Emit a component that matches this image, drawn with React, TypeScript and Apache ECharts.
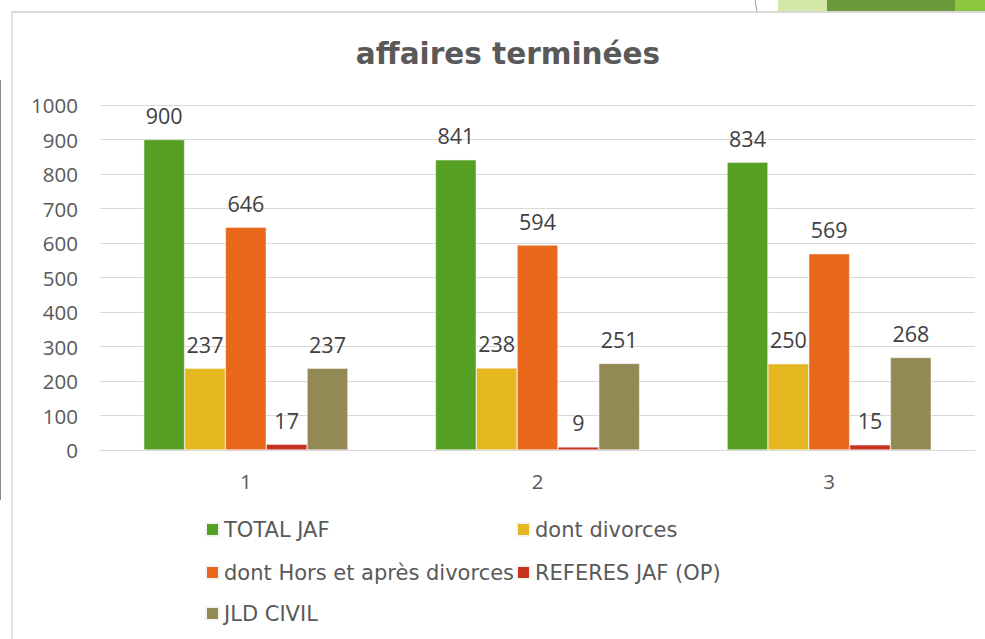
import React, { useEffect, useRef } from "react";
import * as echarts from "echarts";

const categories = ["1", "2", "3"];
const seriesNames = [
  "TOTAL JAF",
  "dont divorces",
  "dont Hors et après divorces",
  "REFERES JAF (OP)",
  "JLD CIVIL",
];
const totalJaf = [900, 841, 834];
const dontDivorces = [237, 238, 250];
const dontHors = [646, 594, 569];
const referesJaf = [17, 9, 15];
const jldCivil = [237, 251, 268];
const seriesColors = ["#55a023", "#e5b821", "#e8671b", "#c9311f", "#938955"];
const yTicks = [0, 1000, 100];

const FONT = "'Open Sans', 'Noto Sans', sans-serif";
const FONT2 = "'DejaVu Sans', sans-serif";

export default function App() {
  const ref = useRef<HTMLDivElement>(null);
  useEffect(() => {
    if (!ref.current) return;
    const chart = echarts.init(ref.current, undefined, { renderer: "svg" });
    const values = [totalJaf, dontDivorces, dontHors, referesJaf, jldCivil];
    const legendPos = [
      { left: 205, top: 519 },
      { left: 516, top: 519 },
      { left: 205, top: 562 },
      { left: 516, top: 562 },
      { left: 205, top: 603 },
    ];
    chart.setOption({
      animation: false,
      backgroundColor: "#ffffff",
      title: {
        text: "affaires terminées",
        left: 508,
        textAlign: "center",
        top: 39,
        padding: 0,
        textStyle: { fontFamily: FONT2, fontSize: 29.5, fontWeight: "bold", color: "#595959" },
      },
      legend: seriesNames.map((n, i) => ({
        data: [n],
        left: legendPos[i].left,
        top: legendPos[i].top,
        padding: 0,
        itemWidth: 13,
        itemHeight: 13,
        itemGap: 4,
        icon: "rect",
        textStyle: { fontFamily: FONT2, fontSize: 21, color: "#595959", padding: [0, 0, 0, 0] },
      })),
      grid: { left: 100, right: 10, top: 105, bottom: 189 },
      xAxis: {
        type: "category",
        data: categories,
        axisLine: { lineStyle: { color: "#d9d9d9", width: 1 } },
        axisTick: { show: false },
        axisLabel: { fontFamily: FONT, fontSize: 20.5, color: "#595959", margin: 20 },
      },
      yAxis: {
        type: "value",
        min: yTicks[0],
        max: yTicks[1],
        interval: yTicks[2],
        axisLine: { show: false },
        axisTick: { show: false },
        splitLine: { lineStyle: { color: "#d9d9d9", width: 1 } },
        axisLabel: {
          fontFamily: FONT,
          fontSize: 20.5,
          color: "#595959",
          margin: 22,
          formatter: (v: number) => String(v),
        },
      },
      series: seriesNames.map((n, i) => ({
        name: n,
        type: "bar",
        data: values[i],
        barGap: "0%",
        barCategoryGap: "30%",
        itemStyle: { color: seriesColors[i], borderColor: "#f4f4f4", borderWidth: 0.5 },
        label: {
          show: true,
          position: "top",
          distance: 13,
          fontFamily: FONT,
          fontSize: 21.5,
          color: "#404040",
        },
      })),
      graphic: [
        { type: "rect", shape: { x: 778, y: 0, width: 60, height: 12 }, style: { fill: "#d4e6a5" } },
        { type: "rect", shape: { x: 827, y: 0, width: 128, height: 12 }, style: { fill: "#6a9a3a" } },
        { type: "rect", shape: { x: 955, y: 0, width: 30, height: 12 }, style: { fill: "#8dc63f" } },
        { type: "line", shape: { x1: 755, y1: 0, x2: 757, y2: 12 }, style: { stroke: "#a0a0a0", lineWidth: 1 } },
        { type: "line", shape: { x1: 12, y1: 12, x2: 985, y2: 12 }, style: { stroke: "#d9d9d9", lineWidth: 2 } },
        { type: "line", shape: { x1: 12, y1: 12, x2: 12, y2: 639 }, style: { stroke: "#d9d9d9", lineWidth: 1.5 } },
        { type: "line", shape: { x1: 0.5, y1: 80, x2: 0.5, y2: 500 }, style: { stroke: "#8a8a8a", lineWidth: 1 } },
      ],
    });
    return () => chart.dispose();
  }, []);
  return (
    <div
      ref={ref}
      style={{ position: "fixed", left: 0, top: 0, width: 985, height: 639 }}
    />
  );
}
